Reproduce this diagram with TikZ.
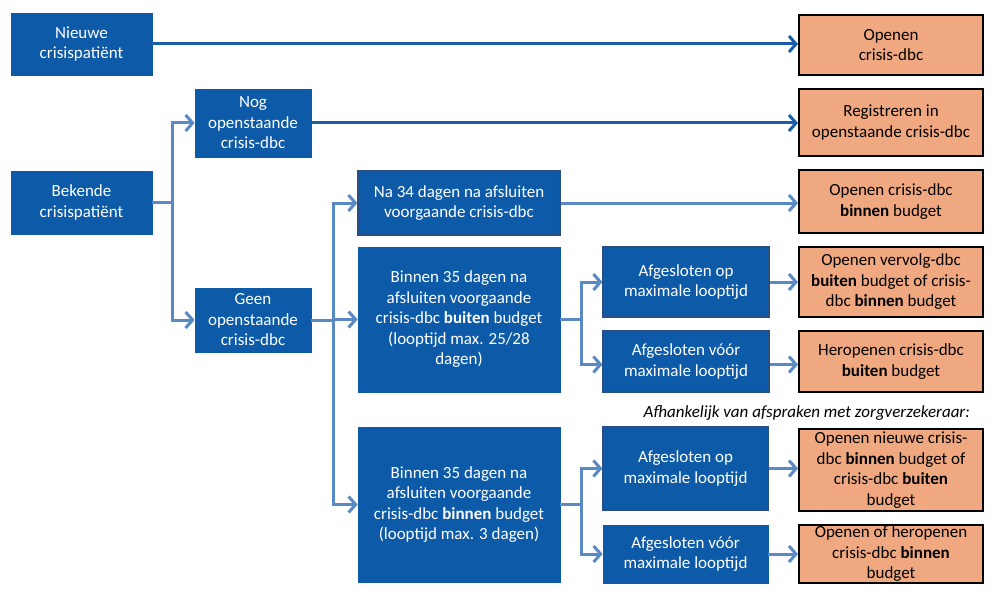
\documentclass[tikz,border=0pt]{standalone}
\usepackage{fontspec}
\setmainfont{Carlito}
\usetikzlibrary{arrows.meta}
\definecolor{boxblue}{RGB}{13,91,168}
\definecolor{boxedge}{RGB}{42,78,130}
\definecolor{lightline}{RGB}{90,138,198}
\definecolor{darkline}{RGB}{27,94,168}
\definecolor{salmon}{RGB}{240,168,128}
\begin{document}
\begin{tikzpicture}[x=1pt,y=-1pt,
  txt/.style={align=center, inner sep=0pt, font=\fontsize{17}{20.5}\selectfont},
  bluebox/.style={txt, fill=boxblue, draw=boxblue, line width=0.8pt, text=white},
  blueedge/.style={bluebox, draw=boxedge, line width=1.2pt},
  orangebox/.style={txt, fill=salmon, draw=black, line width=2pt, text=black},
  tipstyle/.style={-{Straight Barb[length=7pt,width=16pt]}},
  darkarrow/.style={draw=darkline, line width=3pt, tipstyle},
  lightarrow/.style={draw=lightline, line width=3pt, tipstyle},
  lightplain/.style={draw=lightline, line width=3pt},
]
\useasboundingbox (0,0) rectangle (1000,596);

% left column
\node[bluebox, minimum width=141pt, minimum height=62pt] (nieuw) at (81.5,44) {Nieuwe\\crisispatiënt};
\node[bluebox, minimum width=141pt, minimum height=63pt] (bekend) at (81.5,202.5) {Bekende\\crisispatiënt};

% second column
\node[bluebox, minimum width=116pt, minimum height=68pt] (nog) at (253,123) {Nog\\openstaande\\crisis-dbc};
\node[bluebox, minimum width=116pt, minimum height=64pt] (geen) at (253,320) {Geen\\openstaande\\crisis-dbc};

% third column
\node[blueedge, minimum width=202pt, minimum height=64pt] (na34) at (459,203) {Na 34 dagen na afsluiten\\voorgaande crisis-dbc};
\node[bluebox, minimum width=202pt, minimum height=145pt] (bub) at (459,319.5) {Binnen 35 dagen na\\afsluiten voorgaande\\crisis-dbc \textbf{buiten} budget\\(looptijd max. 25/28\\dagen)};
\node[bluebox, minimum width=202pt, minimum height=155pt] (bib) at (459,504.5) {Binnen 35 dagen na\\afsluiten voorgaande\\crisis-dbc \textbf{binnen} budget\\(looptijd max. 3 dagen)};

% fourth column
\node[blueedge, minimum width=166pt, minimum height=70pt] (ao1) at (686,282) {Afgesloten op\\maximale looptijd};
\node[blueedge, minimum width=166pt, minimum height=61pt] (av1) at (686,361.5) {Afgesloten vóór\\maximale looptijd};
\node[blueedge, minimum width=165pt, minimum height=83pt] (ao2) at (685.5,468.5) {Afgesloten op\\maximale looptijd};
\node[bluebox, minimum width=165pt, minimum height=58pt] (av2) at (685.5,554) {Afgesloten vóór\\maximale looptijd};

% orange column
\node[orangebox, minimum width=184pt, minimum height=60pt] (o1) at (891,45) {Openen\\crisis-dbc};
\node[orangebox, minimum width=184pt, minimum height=67pt] (o2) at (891,122.5) {Registreren in\\openstaande crisis-dbc};
\node[orangebox, minimum width=184pt, minimum height=63pt] (o3) at (891,201.5) {Openen crisis-dbc\\\textbf{binnen} budget};
\node[orangebox, minimum width=184pt, minimum height=70pt] (o4) at (891,282) {Openen vervolg-dbc\\\textbf{buiten} budget of crisis-\\dbc \textbf{binnen} budget};
\node[orangebox, minimum width=184pt, minimum height=61pt] (o5) at (891,361.5) {Heropenen crisis-dbc\\\textbf{buiten} budget};
\node[orangebox, minimum width=184pt, minimum height=82pt] (o6) at (891,470) {Openen nieuwe crisis-\\dbc \textbf{binnen} budget of\\crisis-dbc \textbf{buiten}\\budget};
\node[orangebox, minimum width=184pt, minimum height=58pt] (o7) at (891,554) {Openen of heropenen\\crisis-dbc \textbf{binnen}\\budget};

% note
\node[anchor=east, inner sep=0pt, font=\fontsize{17}{20}\selectfont\itshape] (note) at (970,413) {Afhankelijk van afspraken met zorgverzekeraar:};

% junctions
\coordinate (j1) at (172,202.5);
\coordinate (j2) at (333,320);
\coordinate (j3) at (581,319.5);
\coordinate (j4) at (581,504.5);

% connectors
\draw[darkarrow] (nieuw.east) -- (nieuw.east -| o1.west);
\draw[darkarrow] (nog.east) -- (nog.east -| o2.west);

\draw[lightplain] (bekend.east) -- (j1);
\draw[lightarrow] (j1) |- (nog.west);
\draw[lightarrow] (j1) |- (geen.west);

\draw[lightplain] (geen.east) -- (j2);
\draw[lightarrow] (j2) |- (na34.west);
\draw[lightarrow] (j2) |- (bub.west);
\draw[lightarrow] (j2) |- (bib.west);

\draw[lightarrow] (na34.east) -- (na34.east -| o3.west);

\draw[lightplain] (bub.east) -- (j3);
\draw[lightarrow] (j3) |- (ao1.west);
\draw[lightarrow] (j3) |- ([yshift=-3pt]av1.west);
\draw[lightarrow] (ao1.east) -- (ao1.east -| o4.west);
\draw[lightarrow] ([yshift=-3pt]av1.east) -- ([yshift=-3pt]av1.east -| o5.west);

\draw[lightplain] (bib.east) -- (j4);
\draw[lightarrow] (j4) |- (ao2.west);
\draw[lightarrow] (j4) |- (av2.west);
\draw[lightarrow] (ao2.east) -- (ao2.east -| o6.west);
\draw[lightarrow] (av2.east) -- (av2.east -| o7.west);
\end{tikzpicture}
\end{document}
